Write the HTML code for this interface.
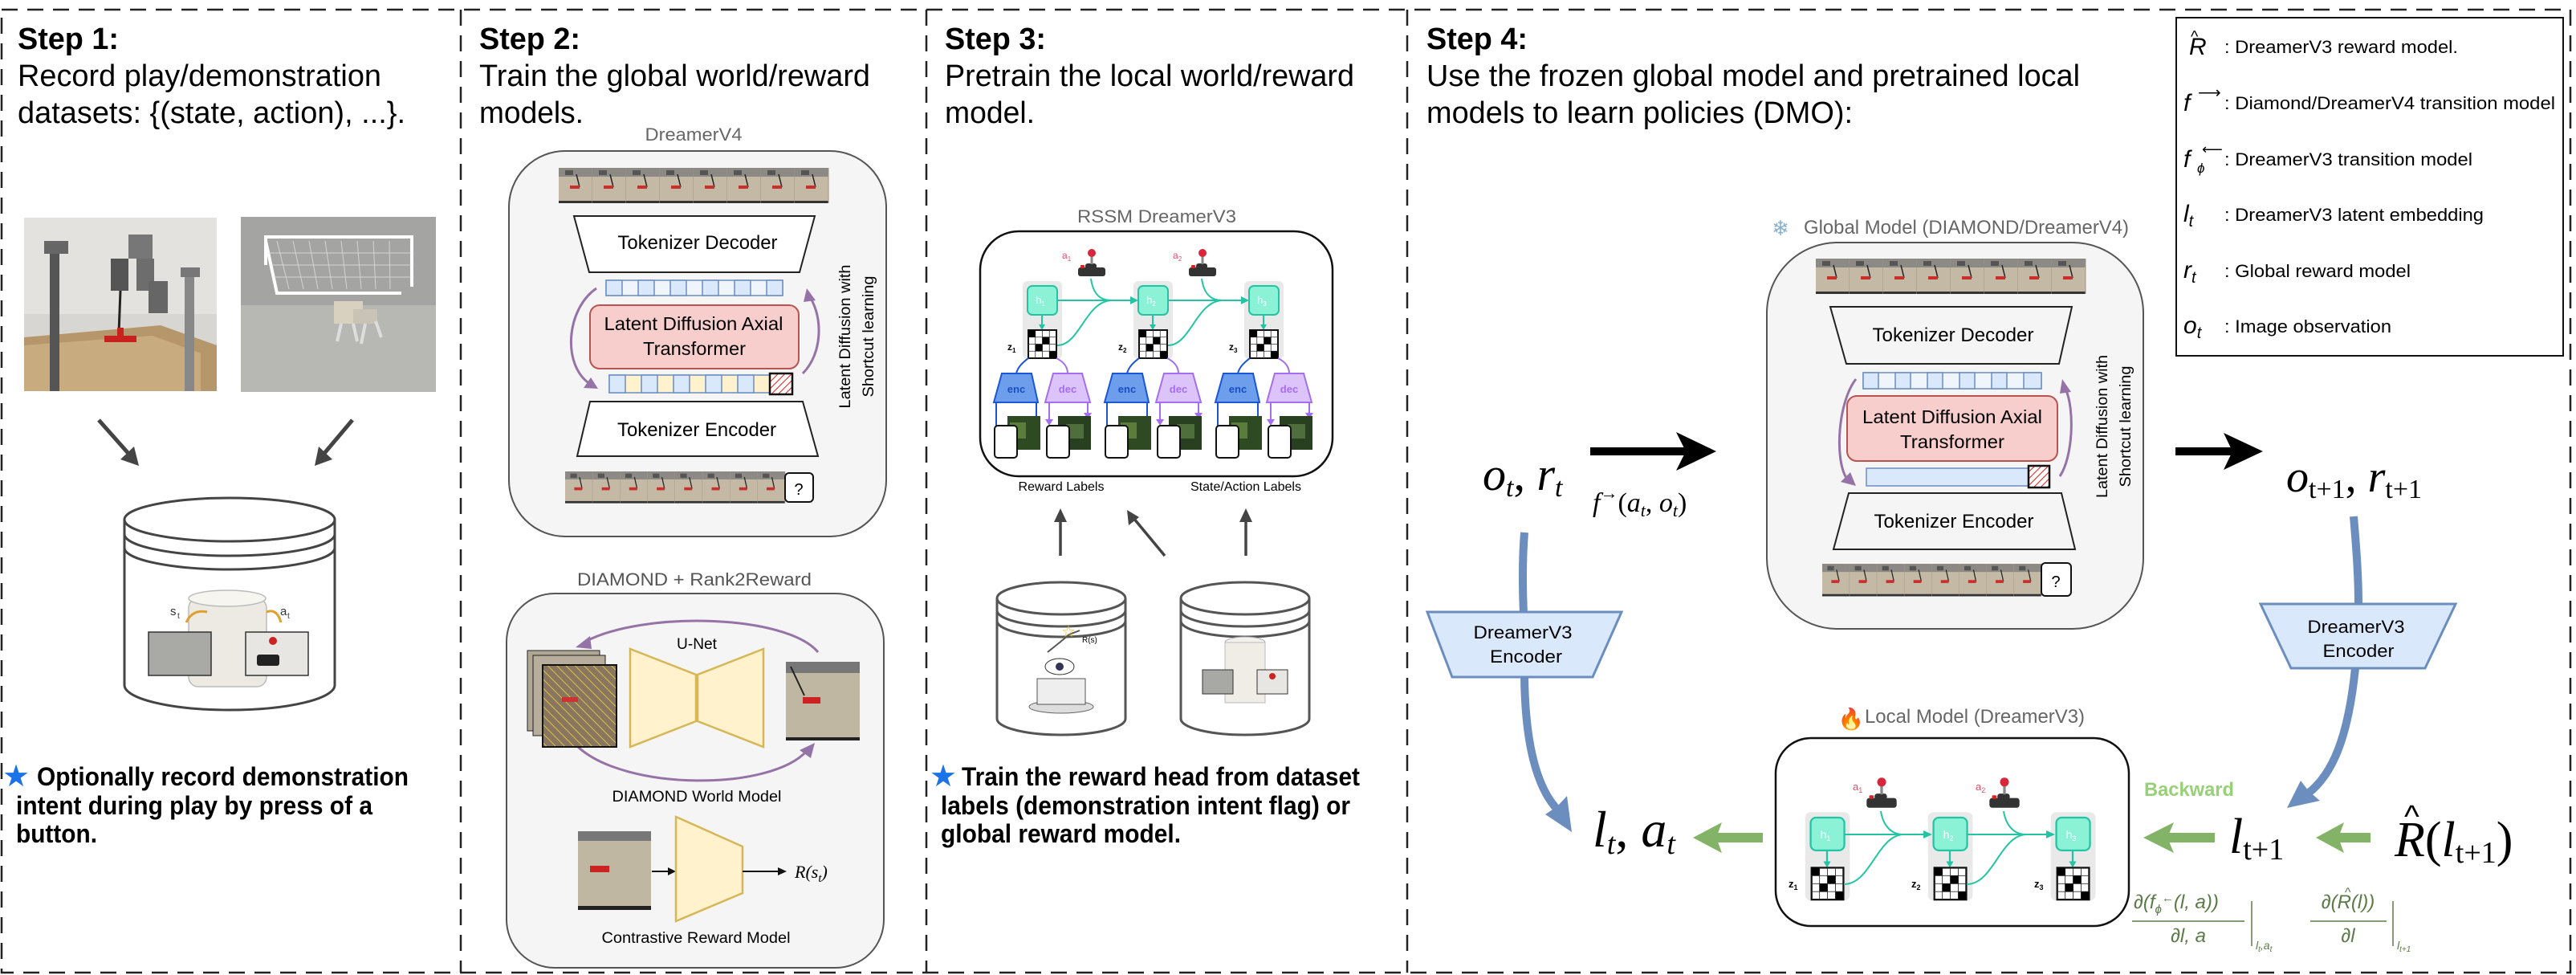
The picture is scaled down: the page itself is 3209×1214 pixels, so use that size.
<!DOCTYPE html>
<html><head><meta charset="utf-8"><style>
html,body{margin:0;padding:0;background:#fff}
svg{display:block}
text{font-family:"Liberation Sans",sans-serif}
.m{font-family:"Liberation Serif",serif;font-style:italic}
</style></head><body>
<svg width="3209" height="1214" viewBox="0 0 3209 1214" xmlns="http://www.w3.org/2000/svg">
<defs>
<pattern id="hatchR" width="6" height="6" patternUnits="userSpaceOnUse" patternTransform="rotate(45)"><rect width="6" height="6" fill="#fff"/><line x1="0" y1="0" x2="0" y2="6" stroke="#e02020" stroke-width="2"/></pattern>
<pattern id="hatchY" width="8" height="8" patternUnits="userSpaceOnUse" patternTransform="rotate(-45)"><rect width="8" height="8" fill="#8a7560"/><line x1="0" y1="0" x2="0" y2="8" stroke="#f0e030" stroke-width="1.5"/></pattern>
<g id="frame">
<rect x="0" y="0" width="42" height="44" fill="#c3b9a5"/>
<rect x="0" y="0" width="42" height="11" fill="#8d8984"/>
<rect x="8" y="3" width="10" height="6" fill="#555"/>
<line x1="22" y1="8" x2="26" y2="24" stroke="#222" stroke-width="1.5"/>
<rect x="14" y="22" width="12" height="4" fill="#c9302c"/>
<rect x="0" y="41" width="42" height="3" fill="#333"/>
<line x1="42" y1="0" x2="42" y2="44" stroke="#9c9383" stroke-width="1"/>
</g>
<g id="film">
<use href="#frame" x="0"/><use href="#frame" x="42"/><use href="#frame" x="84"/><use href="#frame" x="126"/><use href="#frame" x="168"/><use href="#frame" x="210"/><use href="#frame" x="252"/><use href="#frame" x="294"/>
</g>
<g id="hz">
<rect x="-24" y="-6" width="49" height="97" rx="6" fill="#e9e9e9"/>
<rect x="-18" y="0" width="37" height="36" rx="6" fill="#8cf2d6" stroke="#22c4a4" stroke-width="2"/>
<line x1="0" y1="36" x2="0" y2="50" stroke="#22c4a4" stroke-width="2"/>
<polygon points="-4,48 4,48 0,55" fill="#22c4a4"/>
<rect x="-17" y="55" width="35" height="35" fill="#fff" stroke="#111" stroke-width="2"/>
<path d="M-8.25,55V90M0.5,55V90M9.25,55V90M-17,63.75H18M-17,72.5H18M-17,81.25H18" stroke="#333" stroke-width="0.8"/>
<rect x="-17" y="55" width="8.75" height="8.75" fill="#000"/>
<rect x="0.5" y="63.75" width="8.75" height="8.75" fill="#000"/>
<rect x="-8.25" y="72.5" width="8.75" height="8.75" fill="#000"/>
<rect x="9.25" y="81.25" width="8.75" height="8.75" fill="#000"/>
</g>
<g id="ed">
<path d="M-32,109 C-30,100 -22,94 -17,90" stroke="#1a56d6" stroke-width="2" fill="none"/>
<polygon points="-50,109 -13,109 -5,145 -60,145" fill="#6d9eeb" stroke="#1a56d6" stroke-width="2"/>
<path d="M18,90 C26,94 32,100 32,109" stroke="#a56ef0" stroke-width="2" fill="none"/>
<polygon points="14,109 50,109 60,145 4,145" fill="#dcc4fb" stroke="#a56ef0" stroke-width="2"/>
<path d="M-57,145V175M-7,145V165" stroke="#1a56d6" stroke-width="2"/>
<path d="M9,145V168M57,145V160" stroke="#a56ef0" stroke-width="2"/>
<polygon points="4,166 14,166 9,174" fill="#a56ef0"/><polygon points="52,158 62,158 57,166" fill="#a56ef0"/>
<rect x="-43" y="162" width="41" height="42" fill="#2d4a22"/><rect x="-40" y="170" width="20" height="20" fill="#5b7d3c"/>
<rect x="-59" y="174" width="28" height="40" rx="4" fill="#fff" stroke="#111" stroke-width="2"/>
<rect x="20" y="162" width="41" height="42" fill="#28401f"/><rect x="30" y="172" width="22" height="18" fill="#4e6e3c"/>
<rect x="6" y="174" width="28" height="40" rx="4" fill="#fff" stroke="#111" stroke-width="2"/>
</g>
<g id="joy">
<rect x="-17" y="6" width="34" height="11" rx="3" fill="#333"/>
<rect x="-8" y="1" width="14" height="7" rx="3" fill="#333"/>
<rect x="-14" y="3" width="5" height="4" rx="1" fill="#d22"/>
<line x1="0" y1="2" x2="0" y2="-9" stroke="#888" stroke-width="3"/>
<circle cx="0" cy="-12" r="5" fill="#d9263a"/>
</g>
</defs>

<g stroke="#222" stroke-width="2.5" stroke-dasharray="20 12" fill="none">
<rect x="2" y="12" width="3200" height="1199"/>
<line x1="574" y1="12" x2="574" y2="1211"/>
<line x1="1154" y1="12" x2="1154" y2="1211"/>
<line x1="1753" y1="12" x2="1753" y2="1211"/>
</g>

<!-- STEP 1 -->
<text x="22" y="61" font-size="38" font-weight="bold" textLength="126" lengthAdjust="spacingAndGlyphs">Step 1:</text>
<text x="22" y="107" font-size="38" textLength="453" lengthAdjust="spacingAndGlyphs">Record play/demonstration</text>
<text x="22" y="153" font-size="38" textLength="483" lengthAdjust="spacingAndGlyphs">datasets: {(state, action), ...}.</text>
<rect x="30" y="271" width="240" height="216" fill="#d8d6d2"/>
<rect x="30" y="271" width="240" height="120" fill="#e3e2df"/>
<polygon points="30,420 200,405 270,430 270,487 30,487" fill="#b6976c"/>
<polygon points="30,430 190,418 250,440 250,487 30,487" fill="#c9ab80"/>
<rect x="62" y="300" width="12" height="187" fill="#555"/><rect x="55" y="300" width="30" height="16" fill="#666"/>
<rect x="230" y="340" width="12" height="147" fill="#888"/><rect x="225" y="333" width="24" height="12" fill="#777"/>
<rect x="138" y="322" width="22" height="40" fill="#555"/><rect x="160" y="292" width="30" height="30" fill="#777"/><rect x="170" y="322" width="22" height="40" fill="#6d6d6d"/><rect x="185" y="350" width="24" height="40" fill="#666"/>
<line x1="150" y1="362" x2="148" y2="415" stroke="#222" stroke-width="3"/>
<rect x="130" y="418" width="40" height="8" fill="#c8221e"/><rect x="146" y="408" width="8" height="16" fill="#c8221e"/>
<rect x="300" y="270" width="243" height="218" fill="#a4a4a2"/>
<rect x="300" y="380" width="243" height="108" fill="#b7b7b4"/>
<g stroke="#fff" stroke-width="4" fill="none"><path d="M331,330 V295 H513 V357"/><path d="M331,300 L345,365 H500"/></g>
<g stroke="#e8e8e8" stroke-width="1" opacity="0.7"><path d="M345,300 L360,360 M365,300 L378,360 M385,300 L396,360 M405,300 L414,360 M425,300 L432,360 M445,300 L450,360 M465,300 L468,360 M485,300 L486,360 M333,315 H513 M336,330 H513 M340,345 H513"/></g>
<rect x="416" y="375" width="36" height="28" fill="#d8d1c0"/><rect x="440" y="385" width="30" height="18" fill="#c9c3b5"/>
<g stroke="#ddd" stroke-width="4"><path d="M425,403 L420,425 M440,403 L445,425 M455,403 L450,428 M468,400 L475,420"/></g>
<g stroke="#444" stroke-width="5"><line x1="123" y1="523" x2="163" y2="568"/><line x1="439" y1="523" x2="401" y2="568"/></g>
<polygon points="173,580 150,572 167,556" fill="#444"/><polygon points="392,580 397,556 414,572" fill="#444"/>
<path d="M155,647 V853 A131,31 0 0 0 417,853 V647" fill="#fff" stroke="#444" stroke-width="3"/>
<ellipse cx="286" cy="647" rx="131" ry="27" fill="#fff" stroke="#444" stroke-width="3"/>
<path d="M155,665 A131,27 0 0 0 417,665 M155,682 A131,27 0 0 0 417,682" fill="none" stroke="#444" stroke-width="3"/>
<rect x="235" y="745" width="97" height="110" rx="12" fill="#eceae3" stroke="#bbb" stroke-width="1.5"/>
<ellipse cx="283" cy="745" rx="48" ry="10" fill="#f6f5f0" stroke="#bbb" stroke-width="1.5"/>
<rect x="185" y="787" width="78" height="54" fill="#a9aaa6" stroke="#333" stroke-width="1.5"/>
<rect x="306" y="787" width="78" height="54" fill="#e8e6e2" stroke="#333" stroke-width="1.5"/>
<rect x="320" y="815" width="28" height="14" rx="3" fill="#222"/><circle cx="340" cy="798" r="5" fill="#c22"/>
<text x="212" y="766" font-size="15" fill="#333">s</text><text x="221" y="770" font-size="10" fill="#333">t</text>
<text x="349" y="766" font-size="15" fill="#333">a</text><text x="358" y="770" font-size="10" fill="#333">t</text>
<path d="M232,775 Q240,758 258,762 M332,762 Q345,757 350,775" stroke="#e0a030" stroke-width="3" fill="none"/>
<text x="3" y="979" font-size="38" fill="#1a73e8">★</text>
<text x="46" y="978" font-size="32" font-weight="bold" textLength="463" lengthAdjust="spacingAndGlyphs">Optionally record demonstration</text>
<text x="20" y="1014" font-size="32" font-weight="bold" textLength="444" lengthAdjust="spacingAndGlyphs">intent during play by press of a</text>
<text x="20" y="1049" font-size="32" font-weight="bold" textLength="101" lengthAdjust="spacingAndGlyphs">button.</text>

<!-- STEP 2 -->
<text x="597" y="61" font-size="38" font-weight="bold" textLength="126" lengthAdjust="spacingAndGlyphs">Step 2:</text>
<text x="597" y="107" font-size="38" textLength="487" lengthAdjust="spacingAndGlyphs">Train the global world/reward</text>
<text x="597" y="153" font-size="38" textLength="130" lengthAdjust="spacingAndGlyphs">models.</text>
<text x="864" y="175" font-size="22" fill="#666" text-anchor="middle" textLength="121" lengthAdjust="spacingAndGlyphs">DreamerV4</text>
<rect x="634" y="188" width="470" height="480" rx="70" fill="#f5f5f5" stroke="#555" stroke-width="2"/>
<use href="#film" transform="translate(696,209)"/>
<polygon points="715,269 1015,269 996,339 734,339" fill="#fff" stroke="#222" stroke-width="2"/>
<text x="869" y="310" font-size="24" text-anchor="middle" textLength="199" lengthAdjust="spacingAndGlyphs">Tokenizer Decoder</text>
<g stroke="#6c8ebf" stroke-width="1.5"><rect x="755" y="349" width="220" height="19" fill="#f0f4fb"/>
<rect x="755" y="349" width="20" height="19" fill="#dae8fc"/><rect x="795" y="349" width="20" height="19" fill="#dae8fc"/><rect x="835" y="349" width="20" height="19" fill="#dae8fc"/><rect x="875" y="349" width="20" height="19" fill="#dae8fc"/><rect x="915" y="349" width="20" height="19" fill="#dae8fc"/><rect x="955" y="349" width="20" height="19" fill="#dae8fc"/></g>
<rect x="735" y="380" width="260" height="79" rx="12" fill="#f8cecc" stroke="#b85450" stroke-width="2"/>
<text x="864" y="411" font-size="23" text-anchor="middle" textLength="223" lengthAdjust="spacingAndGlyphs">Latent Diffusion Axial</text>
<text x="865" y="442" font-size="23" text-anchor="middle" textLength="128" lengthAdjust="spacingAndGlyphs">Transformer</text>
<g stroke="#6c8ebf" stroke-width="1.5"><rect x="759" y="467" width="200" height="22" fill="#fff2cc"/>
<rect x="759" y="467" width="20" height="22" fill="#dae8fc"/><rect x="799" y="467" width="20" height="22" fill="#dae8fc"/><rect x="839" y="467" width="20" height="22" fill="#dae8fc"/><rect x="879" y="467" width="20" height="22" fill="#dae8fc"/><rect x="919" y="467" width="20" height="22" fill="#dae8fc"/></g>
<rect x="959" y="465" width="28" height="26" fill="url(#hatchR)" stroke="#111" stroke-width="2.5"/>
<polygon points="735,500 1000,500 1019,568 719,568" fill="#fff" stroke="#222" stroke-width="2"/>
<text x="868" y="543" font-size="24" text-anchor="middle" textLength="198" lengthAdjust="spacingAndGlyphs">Tokenizer Encoder</text>
<use href="#film" transform="translate(704,587) scale(0.815,0.9)"/>
<rect x="978" y="589" width="35" height="36" rx="5" fill="#fff" stroke="#111" stroke-width="2"/>
<text x="995" y="616" font-size="20" text-anchor="middle">?</text>
<path d="M743,359 C705,385 700,455 735,478" stroke="#9673a6" stroke-width="3" fill="none"/><polygon points="745,484 727,483 736,470" fill="#9673a6"/>
<path d="M1000,465 C1025,440 1025,395 1009,370" stroke="#9673a6" stroke-width="3" fill="none"/><polygon points="1005,359 1016,374 1001,376" fill="#9673a6"/>
<text transform="translate(1059,419) rotate(-90)" font-size="19" text-anchor="middle" textLength="179" lengthAdjust="spacingAndGlyphs">Latent Diffusion with</text>
<text transform="translate(1088,419) rotate(-90)" font-size="19" text-anchor="middle" textLength="151" lengthAdjust="spacingAndGlyphs">Shortcut learning</text>

<text x="865" y="729" font-size="22" fill="#555" text-anchor="middle" textLength="292" lengthAdjust="spacingAndGlyphs">DIAMOND + Rank2Reward</text>
<rect x="631" y="739" width="470" height="466" rx="60" fill="#f5f5f5" stroke="#555" stroke-width="2"/>
<text x="868" y="808" font-size="19" text-anchor="middle" textLength="50" lengthAdjust="spacingAndGlyphs">U-Net</text>
<path d="M1019,812 C980,765 800,760 727,800" stroke="#9673a6" stroke-width="3" fill="none"/><polygon points="717,806 735,792 737,808" fill="#9673a6"/>
<path d="M720,930 C780,985 960,985 1005,935" stroke="#9673a6" stroke-width="3" fill="none"/><polygon points="1015,925 1010,944 996,934" fill="#9673a6"/>
<rect x="657" y="810" width="90" height="100" fill="#b0a794" stroke="#222" stroke-width="1"/>
<rect x="664" y="816" width="90" height="100" fill="#b7ae9c" stroke="#222" stroke-width="1"/>
<rect x="676" y="828" width="92" height="102" fill="url(#hatchY)" stroke="#111" stroke-width="2"/>
<rect x="700" y="868" width="20" height="6" fill="#c33"/>
<polygon points="785,808 867,840 867,898 785,930" fill="#fff2cc" stroke="#d6b656" stroke-width="2.5"/>
<polygon points="951,808 869,840 869,898 951,930" fill="#fff2cc" stroke="#d6b656" stroke-width="2.5"/>
<rect x="979" y="824" width="92" height="98" fill="#c0b7a3"/><rect x="979" y="824" width="92" height="14" fill="#777"/><rect x="1000" y="868" width="22" height="8" fill="#c22"/><line x1="985" y1="830" x2="1002" y2="866" stroke="#222" stroke-width="2"/><rect x="979" y="918" width="92" height="4" fill="#222"/>
<text x="868" y="998" font-size="19" text-anchor="middle" textLength="211" lengthAdjust="spacingAndGlyphs">DIAMOND World Model</text>
<rect x="720" y="1035" width="91" height="98" fill="#c0b7a3"/><rect x="720" y="1035" width="91" height="12" fill="#777"/><rect x="735" y="1078" width="24" height="8" fill="#c22"/><rect x="720" y="1128" width="91" height="5" fill="#222"/>
<line x1="812" y1="1085" x2="836" y2="1085" stroke="#111" stroke-width="2"/><polygon points="842,1085 832,1080 832,1090" fill="#111"/>
<polygon points="842,1017 925,1054 925,1112 842,1147" fill="#fff2cc" stroke="#d6b656" stroke-width="2.5"/>
<line x1="925" y1="1085" x2="972" y2="1085" stroke="#111" stroke-width="2"/><polygon points="980,1085 969,1080 969,1090" fill="#111"/>
<text x="990" y="1093" class="m" font-size="22">R(s<tspan font-size="15" dy="5">t</tspan><tspan dy="-5">)</tspan></text>
<text x="867" y="1174" font-size="19" text-anchor="middle" textLength="235" lengthAdjust="spacingAndGlyphs">Contrastive Reward Model</text>

<!-- STEP 3 -->
<text x="1177" y="61" font-size="38" font-weight="bold" textLength="126" lengthAdjust="spacingAndGlyphs">Step 3:</text>
<text x="1177" y="107" font-size="38" textLength="510" lengthAdjust="spacingAndGlyphs">Pretrain the local world/reward</text>
<text x="1177" y="153" font-size="38" textLength="112" lengthAdjust="spacingAndGlyphs">model.</text>
<text x="1441" y="277" font-size="22" fill="#666" text-anchor="middle" textLength="198" lengthAdjust="spacingAndGlyphs">RSSM DreamerV3</text>
<rect x="1221" y="288" width="439" height="305" rx="48" fill="#fff" stroke="#111" stroke-width="2.5"/>
<use href="#hz" x="1298" y="356"/><use href="#hz" x="1436" y="356"/><use href="#hz" x="1574" y="356"/>
<use href="#ed" x="1298" y="356"/><use href="#ed" x="1436" y="356"/><use href="#ed" x="1574" y="356"/>
<use href="#joy" x="1360" y="327"/><use href="#joy" x="1498" y="327"/>
<g stroke="#22c4a4" stroke-width="2" fill="none">
<path d="M1317,374 H1410"/><path d="M1455,374 H1548"/>
<path d="M1359,347 C1362,368 1372,374 1384,374"/><path d="M1497,347 C1500,368 1510,374 1522,374"/>
<path d="M1317,430 C1345,430 1352,376 1384,374"/><path d="M1455,430 C1483,430 1490,376 1522,374"/>
</g>
<polygon points="1418,374 1408,369 1408,379" fill="#22c4a4"/><polygon points="1556,374 1546,369 1546,379" fill="#22c4a4"/>
<g font-size="13" fill="#fff" text-anchor="middle"><text x="1296" y="378">h<tspan font-size="8" dy="3">1</tspan></text><text x="1434" y="378">h<tspan font-size="8" dy="3">2</tspan></text><text x="1572" y="378">h<tspan font-size="8" dy="3">3</tspan></text></g>
<g font-size="12" font-weight="bold"><text x="1255" y="436">z<tspan font-size="8" dy="3">1</tspan></text><text x="1393" y="436">z<tspan font-size="8" dy="3">2</tspan></text><text x="1531" y="436">z<tspan font-size="8" dy="3">3</tspan></text></g>
<g font-size="12" fill="#e0506a"><text x="1323" y="322">a<tspan font-size="8" dy="3">1</tspan></text><text x="1461" y="322">a<tspan font-size="8" dy="3">2</tspan></text></g>
<g font-size="13" fill="#1a4fc4" font-weight="bold" text-anchor="middle"><text x="1266" y="489">enc</text><text x="1404" y="489">enc</text><text x="1542" y="489">enc</text></g>
<g font-size="13" fill="#a56ef0" font-weight="bold" text-anchor="middle"><text x="1330" y="489">dec</text><text x="1468" y="489">dec</text><text x="1606" y="489">dec</text></g>
<text x="1322" y="611" font-size="16" text-anchor="middle" textLength="107" lengthAdjust="spacingAndGlyphs">Reward Labels</text>
<text x="1552" y="611" font-size="16" text-anchor="middle" textLength="138" lengthAdjust="spacingAndGlyphs">State/Action Labels</text>
<g stroke="#444" stroke-width="3.5"><line x1="1321" y1="692" x2="1321" y2="645"/><line x1="1552" y1="692" x2="1552" y2="645"/><line x1="1451" y1="692" x2="1412" y2="645"/></g>
<polygon points="1321,633 1313,650 1329,650" fill="#444"/><polygon points="1552,633 1544,650 1560,650" fill="#444"/><polygon points="1404,635 1406,654 1419,644" fill="#444"/>
<g fill="#fff" stroke="#555" stroke-width="3">
<path d="M1242,745 V895 A80,20 0 0 0 1402,895 V745"/><ellipse cx="1322" cy="745" rx="80" ry="20"/>
<path d="M1242,760 A80,20 0 0 0 1402,760 M1242,773 A80,20 0 0 0 1402,773" fill="none"/>
<path d="M1471,745 V895 A80,20 0 0 0 1631,895 V745"/><ellipse cx="1551" cy="745" rx="80" ry="20"/>
<path d="M1471,760 A80,20 0 0 0 1631,760 M1471,773 A80,20 0 0 0 1631,773" fill="none"/>
</g>
<ellipse cx="1322" cy="880" rx="40" ry="8" fill="#ddd" stroke="#666"/><rect x="1292" y="845" width="60" height="32" fill="#eee" stroke="#555"/><ellipse cx="1320" cy="830" rx="18" ry="10" fill="#fff" stroke="#333"/><circle cx="1320" cy="830" r="5" fill="#335"/>
<path d="M1305,812 L1320,800 L1332,790 L1345,785" stroke="#555" stroke-width="2" fill="none"/><text x="1322" y="793" font-size="20" fill="#e8b820">☆</text><text x="1348" y="800" font-size="10">R(s)</text>
<ellipse cx="1551" cy="800" rx="25" ry="7" fill="#f3f1ea" stroke="#aaa"/><rect x="1526" y="800" width="50" height="75" fill="#efede6" stroke="#bbb"/>
<rect x="1498" y="834" width="38" height="30" fill="#a8a8a5" stroke="#333"/><rect x="1566" y="834" width="38" height="30" fill="#e8e6e2" stroke="#333"/><circle cx="1585" cy="842" r="4" fill="#c22"/>
<text x="1198" y="978" font-size="32" font-weight="bold" textLength="496" lengthAdjust="spacingAndGlyphs">Train the reward head from dataset</text>
<text x="1172" y="1014" font-size="32" font-weight="bold" textLength="510" lengthAdjust="spacingAndGlyphs">labels (demonstration intent flag) or</text>
<text x="1172" y="1049" font-size="32" font-weight="bold" textLength="299" lengthAdjust="spacingAndGlyphs">global reward model.</text>
<text x="1158" y="979" font-size="38" fill="#1a73e8">★</text>

<!-- STEP 4 -->
<text x="1777" y="61" font-size="38" font-weight="bold" textLength="126" lengthAdjust="spacingAndGlyphs">Step 4:</text>
<text x="1777" y="107" font-size="38" textLength="814" lengthAdjust="spacingAndGlyphs">Use the frozen global model and pretrained local</text>
<text x="1777" y="153" font-size="38" textLength="531" lengthAdjust="spacingAndGlyphs">models to learn policies (DMO):</text>

<rect x="2711" y="22" width="482" height="421" fill="#fff" stroke="#111" stroke-width="2"/>
<g class="m" font-size="30">
<text x="2727" y="68">R</text><text x="2729" y="52" font-size="20" font-style="normal">^</text>
<text x="2720" y="138">f</text><text x="2738" y="122" font-size="20" font-style="normal">⟶</text>
<text x="2720" y="208">f</text><text x="2737" y="215" font-size="17">ϕ</text><text x="2743" y="192" font-size="18" font-style="normal">⟵</text>
<text x="2720" y="276">l<tspan font-size="20" dy="6">t</tspan></text>
<text x="2720" y="346">r<tspan font-size="20" dy="6">t</tspan></text>
<text x="2720" y="415">o<tspan font-size="20" dy="6">t</tspan></text>
</g>
<g font-size="22">
<text x="2771" y="66" textLength="291" lengthAdjust="spacingAndGlyphs">: DreamerV3 reward model.</text>
<text x="2771" y="136" textLength="412" lengthAdjust="spacingAndGlyphs">: Diamond/DreamerV4 transition model</text>
<text x="2771" y="206" textLength="309" lengthAdjust="spacingAndGlyphs">: DreamerV3 transition model</text>
<text x="2771" y="275" textLength="323" lengthAdjust="spacingAndGlyphs">: DreamerV3 latent embedding</text>
<text x="2771" y="345" textLength="232" lengthAdjust="spacingAndGlyphs">: Global reward model</text>
<text x="2771" y="414" textLength="208" lengthAdjust="spacingAndGlyphs">: Image observation</text>
</g>

<text x="2218" y="293" font-size="26" fill="#8ab0d0" text-anchor="middle">❄</text>
<text x="2247" y="291" font-size="24" fill="#666" textLength="405" lengthAdjust="spacingAndGlyphs">Global Model (DIAMOND/DreamerV4)</text>
<rect x="2201" y="302" width="469" height="481" rx="88" fill="#f5f5f5" stroke="#555" stroke-width="2"/>
<use href="#film" transform="translate(2262,322)"/>
<polygon points="2280,382 2581,382 2565,453 2300,453" fill="#f5f5f5" stroke="#222" stroke-width="2"/>
<text x="2433" y="425" font-size="24" text-anchor="middle" textLength="201" lengthAdjust="spacingAndGlyphs">Tokenizer Decoder</text>
<g stroke="#6c8ebf" stroke-width="1.5"><rect x="2321" y="464" width="222" height="20" fill="#f0f4fb"/>
<rect x="2321" y="464" width="19" height="20" fill="#dae8fc"/><rect x="2361" y="464" width="19" height="20" fill="#dae8fc"/><rect x="2401" y="464" width="19" height="20" fill="#dae8fc"/><rect x="2441" y="464" width="19" height="20" fill="#dae8fc"/><rect x="2481" y="464" width="19" height="20" fill="#dae8fc"/><rect x="2521" y="464" width="22" height="20" fill="#dae8fc"/></g>
<rect x="2301" y="493" width="262" height="81" rx="12" fill="#f8cecc" stroke="#b85450" stroke-width="2"/>
<text x="2432" y="527" font-size="23" text-anchor="middle" textLength="224" lengthAdjust="spacingAndGlyphs">Latent Diffusion Axial</text>
<text x="2432" y="558" font-size="23" text-anchor="middle" textLength="130" lengthAdjust="spacingAndGlyphs">Transformer</text>
<rect x="2325" y="583" width="205" height="22" fill="#dae8fc" stroke="#6c8ebf" stroke-width="1.5"/>
<rect x="2527" y="580" width="26" height="27" fill="url(#hatchR)" stroke="#111" stroke-width="2.5"/>
<polygon points="2303,614 2568,614 2585,684 2284,684" fill="#f5f5f5" stroke="#222" stroke-width="2"/>
<text x="2434" y="657" font-size="24" text-anchor="middle" textLength="199" lengthAdjust="spacingAndGlyphs">Tokenizer Encoder</text>
<use href="#film" transform="translate(2270,702) scale(0.812,0.92)"/>
<rect x="2543" y="701" width="37" height="41" rx="5" fill="#fff" stroke="#111" stroke-width="2"/>
<text x="2561" y="731" font-size="20" text-anchor="middle">?</text>
<path d="M2312,472 C2290,500 2285,570 2300,595" stroke="#9673a6" stroke-width="3" fill="none"/><polygon points="2312,605 2293,600 2305,588" fill="#9673a6"/>
<path d="M2566,593 C2582,570 2585,510 2573,484" stroke="#9673a6" stroke-width="3" fill="none"/><polygon points="2569,472 2580,488 2566,490" fill="#9673a6"/>
<text transform="translate(2625,531) rotate(-90)" font-size="19" text-anchor="middle" textLength="178" lengthAdjust="spacingAndGlyphs">Latent Diffusion with</text>
<text transform="translate(2654,531) rotate(-90)" font-size="19" text-anchor="middle" textLength="151" lengthAdjust="spacingAndGlyphs">Shortcut learning</text>

<rect x="1981" y="557" width="120" height="10" fill="#000"/><polygon points="2138,562 2088,538 2100,562 2088,586" fill="#000"/>
<rect x="2710" y="557" width="75" height="10" fill="#000"/><polygon points="2819,562 2770,539 2781,562 2770,585" fill="#000"/>
<text x="1847" y="610" class="m" font-size="58">o<tspan font-size="34" dy="8">t</tspan><tspan dy="-8" font-style="normal">, </tspan>r<tspan font-size="34" dy="8">t</tspan></text>
<text x="1984" y="637" class="m" font-size="34">f<tspan font-size="22" dy="-16" font-style="normal">→</tspan><tspan dy="16" font-style="normal">(</tspan>a<tspan font-size="22" dy="6">t</tspan><tspan dy="-6" font-style="normal">, </tspan>o<tspan font-size="22" dy="6">t</tspan><tspan dy="-6" font-style="normal">)</tspan></text>
<text x="2848" y="612" class="m" font-size="56">o<tspan font-size="34" dy="8" font-style="normal">t+1</tspan><tspan dy="-8" font-style="normal">, </tspan>r<tspan font-size="34" dy="8" font-style="normal">t+1</tspan></text>

<g stroke="#6c8ebf" stroke-width="10" fill="none">
<path d="M1899,663 C1896,700 1897,740 1898,764"/>
<path d="M1899,843 C1900,920 1912,980 1942,1010"/>
<path d="M2932,643 C2936,690 2938,720 2938,754"/>
<path d="M2934,832 C2925,920 2905,965 2875,988"/>
</g>
<polygon points="1958,1036 1925,1014 1940,1004 1952,991" fill="#6c8ebf"/>
<polygon points="2849,1006 2866,972 2876,985 2890,997" fill="#6c8ebf"/>
<polygon points="1778,762 2020,762 1984,843 1809,843" fill="#dae8fc" stroke="#6c8ebf" stroke-width="3"/>
<text x="1897" y="795" font-size="22" text-anchor="middle" textLength="123" lengthAdjust="spacingAndGlyphs">DreamerV3</text>
<text x="1901" y="825" font-size="22" text-anchor="middle" textLength="90" lengthAdjust="spacingAndGlyphs">Encoder</text>
<polygon points="2816,752 3059,752 3021,832 2854,832" fill="#dae8fc" stroke="#6c8ebf" stroke-width="3"/>
<text x="2935" y="788" font-size="22" text-anchor="middle" textLength="121" lengthAdjust="spacingAndGlyphs">DreamerV3</text>
<text x="2938" y="818" font-size="22" text-anchor="middle" textLength="89" lengthAdjust="spacingAndGlyphs">Encoder</text>

<text x="2306" y="904" font-size="26" fill="#f08020" text-anchor="middle">🔥</text>
<text x="2323" y="900" font-size="24" fill="#666" textLength="274" lengthAdjust="spacingAndGlyphs">Local Model (DreamerV3)</text>
<rect x="2212" y="919" width="440" height="234" rx="44" fill="#fff" stroke="#111" stroke-width="2.5"/>
<use href="#hz" transform="translate(2276,1018) scale(1.135)"/>
<use href="#hz" transform="translate(2429,1018) scale(1.135)"/>
<use href="#hz" transform="translate(2582,1018) scale(1.135)"/>
<use href="#joy" transform="translate(2344,987) scale(1.1)"/><use href="#joy" transform="translate(2497,987) scale(1.1)"/>
<g stroke="#22c4a4" stroke-width="2" fill="none">
<path d="M2297,1039 H2400"/><path d="M2450,1039 H2553"/>
<path d="M2343,1010 C2346,1030 2358,1039 2370,1039"/><path d="M2496,1010 C2499,1030 2511,1039 2523,1039"/>
<path d="M2297,1101 C2330,1101 2338,1042 2370,1039"/><path d="M2450,1101 C2483,1101 2491,1042 2523,1039"/>
</g>
<polygon points="2407,1039 2396,1034 2396,1044" fill="#22c4a4"/><polygon points="2560,1039 2549,1034 2549,1044" fill="#22c4a4"/>
<g font-size="14" fill="#fff" text-anchor="middle"><text x="2274" y="1044">h<tspan font-size="9" dy="3">1</tspan></text><text x="2427" y="1044">h<tspan font-size="9" dy="3">2</tspan></text><text x="2580" y="1044">h<tspan font-size="9" dy="3">3</tspan></text></g>
<g font-size="13" font-weight="bold"><text x="2228" y="1105">z<tspan font-size="9" dy="3">1</tspan></text><text x="2381" y="1105">z<tspan font-size="9" dy="3">2</tspan></text><text x="2534" y="1105">z<tspan font-size="9" dy="3">3</tspan></text></g>
<g font-size="13" fill="#e0506a"><text x="2308" y="984">a<tspan font-size="9" dy="3">1</tspan></text><text x="2461" y="984">a<tspan font-size="9" dy="3">2</tspan></text></g>

<text x="1984" y="1054" class="m" font-size="64">l<tspan font-size="38" dy="9">t</tspan><tspan dy="-9" font-style="normal">, </tspan>a<tspan font-size="38" dy="9">t</tspan></text>
<rect x="2135" y="1037" width="61" height="12" fill="#82b366"/><polygon points="2109,1043 2145,1024 2138,1043 2145,1062" fill="#82b366"/>
<text x="2727" y="991" font-size="24" font-weight="bold" fill="#97d077" text-anchor="middle" textLength="112" lengthAdjust="spacingAndGlyphs">Backward</text>
<rect x="2698" y="1037" width="61" height="12" fill="#82b366"/><polygon points="2670,1043 2708,1024 2700,1043 2708,1062" fill="#82b366"/>
<text x="2777" y="1062" class="m" font-size="62">l<tspan font-size="38" dy="8" font-style="normal">t+1</tspan></text>
<rect x="2912" y="1037" width="41" height="12" fill="#82b366"/><polygon points="2885,1043 2920,1024 2913,1043 2920,1062" fill="#82b366"/>
<text x="2983" y="1066" class="m" font-size="62">R<tspan font-style="normal">(</tspan>l<tspan font-size="38" dy="8" font-style="normal">t+1</tspan><tspan font-style="normal" dy="-8">)</tspan></text>
<text x="2995" y="1030" font-size="40">^</text>
<g fill="#5b7a47" class="m">
<text x="2658" y="1131" font-size="24">∂(f<tspan font-size="15" dy="6">ϕ</tspan><tspan font-size="15" dy="-14" font-style="normal">←</tspan><tspan dy="8">(l, a))</tspan></text>
<line x1="2656" y1="1147" x2="2796" y2="1147" stroke="#5b7a47" stroke-width="1.5"/>
<text x="2726" y="1173" font-size="24" text-anchor="middle">∂l, a</text>
<line x1="2805" y1="1122" x2="2805" y2="1178" stroke="#5b7a47" stroke-width="1.5"/>
<text x="2810" y="1182" font-size="14">l<tspan font-size="10" dy="3">t</tspan><tspan dy="-3">,a</tspan><tspan font-size="10" dy="3">t</tspan></text>
<text x="2925" y="1131" font-size="24" text-anchor="middle">∂(R(l))</text>
<text x="2921" y="1116" font-size="16" font-style="normal">^</text>
<line x1="2878" y1="1147" x2="2973" y2="1147" stroke="#5b7a47" stroke-width="1.5"/>
<text x="2925" y="1173" font-size="24" text-anchor="middle">∂l</text>
<line x1="2981" y1="1122" x2="2981" y2="1178" stroke="#5b7a47" stroke-width="1.5"/>
<text x="2986" y="1182" font-size="14">l<tspan font-size="10" dy="3">t+1</tspan></text>
</g>
</svg>
</body></html>
